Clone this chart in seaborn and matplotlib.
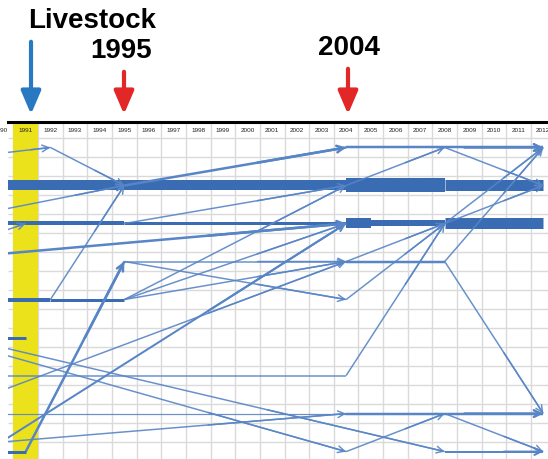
import numpy as np
import matplotlib
matplotlib.use("Agg")
import matplotlib.pyplot as plt
import seaborn as sns

sns.set_theme(style="white")
plt.rcParams["font.family"] = ["Liberation Sans", "DejaVu Sans"]

# ----------------------------------------------------------------------
# Data: land-use trajectories between observation years
# ----------------------------------------------------------------------
years = list(range(1990, 2013))
highlight_year = 1991
marked_years = [1995, 2004]
n_classes = 9

# each link goes from (from_year, from_class) to (to_year, to_class)
from_year = [1990, 1995, 2004, 2008, 1990, 1995, 2004, 2005, 2008,
             1990, 1992, 1995, 2004, 2004, 2008, 2008, 2008, 2008, 2008,
             2004, 1990, 1990, 1990, 1995, 1990, 1992, 1992, 1995, 1995,
             1995, 1995, 1995, 1991, 1990, 1990, 1990, 1990, 1990, 1990,
             1990, 2004, 1990, 2004, 2004, 2008, 2008, 1990, 2004, 2004]
from_class = [1, 1, 1, 1, 2, 2, 2, 2, 2,
              0.15, 0, 1, 0, 1, 0, 2, 2, 3, 3,
              3, 1.64, 2.22, 2.8, 2, 4, 4, 4, 4, 4,
              4, 3, 3, 8, 7.75, 7.75, 6.4, 5, 5.25, 5.43,
              6, 6, 7, 7, 8, 7, 8, 8, 4, 3]
to_year = [1995, 2004, 2008, 2012, 1995, 2004, 2005, 2008, 2012,
           1992, 1995, 2004, 2012, 2008, 2012, 2012, 2012, 2012, 2012,
           2008, 1995, 1991, 2004, 2004, 1992, 1995, 1995, 2004, 2004,
           2004, 2004, 2004, 1995, 2004, 2004, 2004, 1991, 2008, 2004,
           2004, 2008, 2004, 2012, 2008, 2012, 2012, 1991, 2008, 2008]
to_class = [1, 1, 1, 1, 2, 2, 2, 2, 2,
            0, 1, 0, 0, 0, 1, 0, 1, 0, 7,
            3, 1, 2, 2, 1, 4, 4, 1, 1, 2,
            3, 3, 4, 3, 2, 7, 3, 5, 8, 8,
            6, 2, 7, 7, 7, 8, 8, 8, 2, 2]
# relative amount of area following each link (drives line weight)
flow = [10, 10, 14, 11, 4, 3, 10, 6, 11,
        1.5, 1.5, 2.5, 2.5, 1.5, 1.5, 1.5, 1.5, 1.5, 1.5,
        2.5, 1.5, 1.5, 2.5, 1.5, 4, 3, 1.5, 1.5, 1.5,
        1.5, 1.5, 1.5, 2.5, 2, 1.5, 1.5, 3, 1.5, 1.5,
        1.5, 1.5, 1.2, 2.5, 1.5, 1.5, 2, 3, 1.5, 1.5]
arrow = [0, 0, 0, 0, 0, 0, 0, 0, 0,
         1, 1, 1, 1, 1, 1, 1, 1, 1, 1,
         0, 1, 1, 1, 1, 0, 0, 1, 1, 1,
         1, 1, 1, 1, 1, 1, 1, 0, 1, 1,
         0, 1, 0, 1, 1, 1, 1, 0, 1, 1]

band_color = "#3a6cb4"
link_color = "#5785c6"


def row(c):
    # every class sits on every other grid row
    return 2 * np.asarray(c, dtype=float) + 0.5


# ----------------------------------------------------------------------
# Figure
# ----------------------------------------------------------------------
fig = plt.figure(figsize=(5.48, 4.6), dpi=100)
ax = fig.add_axes([8 / 548, 0, 540 / 548, 337 / 460])
x_lo, x_hi = 1990.28, 2012.19
ax.set_xlim(x_lo, x_hi)
ax.set_ylim(16.89, -0.84)

# grid cells
ax.vlines(np.array(years) + 0.5, -0.84, 17, color="#dadada", lw=1.0, zorder=1)
ax.hlines(np.arange(0, 18), x_lo, x_hi, color="#dadada", lw=1.0, zorder=1)
ax.axvspan(highlight_year - 0.5, highlight_year + 0.5, color="#ece21c", lw=0, zorder=2)

# year labels in the header row (the outer two run off the edges, as in the source)
for yr in years:
    ax.text(yr, -0.42, str(yr), ha="center", va="center", fontsize=4.6,
            color="#222222", zorder=3, clip_on=False)

# trajectory links
for i in range(len(flow)):
    xs = [from_year[i], to_year[i]]
    ys = [row(from_class[i]), row(to_class[i])]
    lw = flow[i] * 0.72
    col = band_color if flow[i] >= 3 else link_color
    alpha = 1.0 if flow[i] >= 2 else 0.9
    ax.plot(xs, ys, color=col, lw=lw, alpha=alpha, solid_capstyle="butt", zorder=4)
    if arrow[i]:
        xa = xs[0] + 0.6 * (xs[1] - xs[0])
        ya = ys[0] + 0.6 * (ys[1] - ys[0])
        ax.annotate("", xy=(xs[1], ys[1]), xytext=(xa, ya),
                    arrowprops=dict(arrowstyle="->,head_length=0.4,head_width=0.2",
                                    color=col, lw=lw, alpha=alpha,
                                    shrinkA=0, shrinkB=0), zorder=5)

ax.set_xticks([])
ax.set_yticks([])
sns.despine(ax=ax, top=False, right=True, left=True, bottom=True)
ax.spines["top"].set_color("black")
ax.spines["top"].set_linewidth(2.2)

# header annotations
H = 460
fig.text(28 / 548, 1 - 21 / H, "Livestock", fontsize=20, fontweight="bold",
         ha="left", va="center", color="black")
fig.text(121 / 548, 1 - 51 / H, str(marked_years[0]), fontsize=20, fontweight="bold",
         ha="center", va="center", color="black")
fig.text(349 / 548, 1 - 48 / H, str(marked_years[1]), fontsize=20, fontweight="bold",
         ha="center", va="center", color="black")

big = "-|>,head_length=0.7,head_width=0.3"
fig.add_artist(matplotlib.patches.FancyArrowPatch(
    (31, H - 40), (31, H - 118), transform=None, arrowstyle=big,
    mutation_scale=20, lw=3, color="#2878c2"))
fig.add_artist(matplotlib.patches.FancyArrowPatch(
    (124, H - 70), (124, H - 118), transform=None, arrowstyle=big,
    mutation_scale=20, lw=3, color="#e32626"))
fig.add_artist(matplotlib.patches.FancyArrowPatch(
    (348, H - 67), (348, H - 118), transform=None, arrowstyle=big,
    mutation_scale=20, lw=3, color="#e32626"))

fig.savefig("out.png", dpi=100)
